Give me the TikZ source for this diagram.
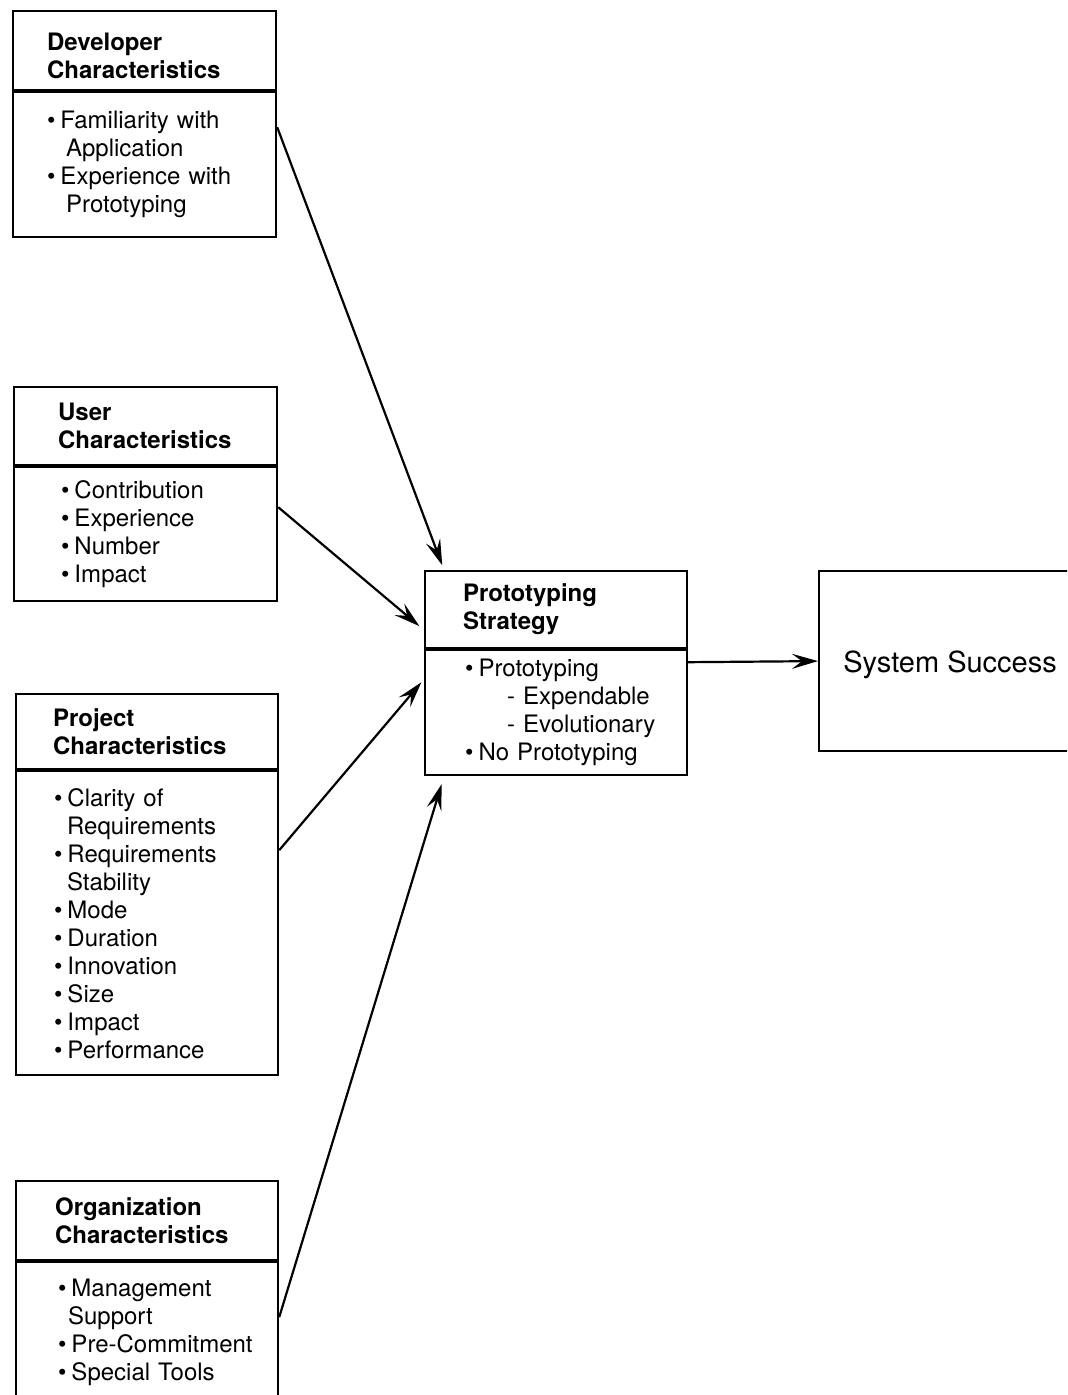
\documentclass[tikz,border=0pt]{standalone}
\usepackage{fontspec}
\setmainfont{TeX Gyre Heros}
\usetikzlibrary{arrows.meta}
\newcommand{\bul}{\textbullet\hspace{2.5pt}}
\tikzset{
  hdr/.style={draw, line width=1.1pt, anchor=north west, inner xsep=0pt, inner ysep=0pt,
    align=left, font=\bfseries\fontsize{12}{14}\selectfont},
  body/.style={draw, line width=1.1pt, anchor=north west, inner xsep=0pt, inner ysep=0pt,
    align=left, font=\fontsize{12}{14}\selectfont},
  inset/.style={execute at begin node={\leftskip=#1\relax}, execute at end node={\par}},
  arrow/.style={line width=1.1pt, -{Stealth[length=13pt, width=7.5pt, inset=5pt]}}
}

\begin{document}
\begin{tikzpicture}[x=0.5pt, y=-0.5pt]
  \path[use as bounding box, clip] (0,0) rectangle (1067,1395);
  % Einflussfaktoren
  \node[hdr, inset=17pt, text width=131.5pt, minimum height=39.5pt] (devh) at (12,10)
    {\rule{0pt}{14pt}Developer\\Characteristics};
  \node[body, inset=17pt, text width=131.5pt, minimum height=72.5pt] (devb) at (devh.south west)
    {\bul Familiarity with\\\hspace*{9.5pt}Application\\
     \bul Experience with\\\hspace*{9.5pt}Prototyping};
  \node[hdr, inset=22pt, text width=131.5pt, minimum height=39pt] (userh) at (13,386)
    {User\\Characteristics};
  \node[body, inset=23.5pt, text width=131.5pt, minimum height=67pt] (userb) at (userh.south west)
    {\bul Contribution\\\bul Experience\\\bul Number\\\bul Impact};
  \node[hdr, inset=18.5pt, text width=131pt, minimum height=37.5pt] (projh) at (15,693)
    {Project\\Characteristics};
  \node[body, inset=19pt, text width=131pt, minimum height=152pt] (projb) at (projh.south west)
    {\bul Clarity of\\\hspace*{6.5pt}Requirements\\
     \bul Requirements\\\hspace*{6.5pt}Stability\\
     \bul Mode\\\bul Duration\\\bul Innovation\\
     \bul Size\\\bul Impact\\\bul Performance};
  \node[hdr, inset=19.5pt, text width=131pt, minimum height=39.5pt] (orgh) at (15,1180)
    {Organization\\Characteristics};
  \node[body, inset=21pt, text width=131pt, minimum height=70.5pt] (orgb) at (orgh.south west)
    {\bul Management\\\hspace*{5pt}Support\\
     \bul Pre-Commitment\\\bul Special Tools};
  % Strategie und Ergebnis
  \node[hdr, inset=19pt, text width=131pt, minimum height=38.5pt] (psh) at (424,570)
    {Prototyping\\Strategy};
  \node[body, inset=20pt, text width=131pt, minimum height=62.5pt] (psb) at (psh.south west)
    {\bul Prototyping\\\hspace*{21pt}- Expendable\\
     \hspace*{21pt}- Evolutionary\\\bul No Prototyping};
  \node[draw, line width=1.1pt, anchor=north west, minimum width=131pt, minimum height=90pt,
    font=\fontsize{14.5}{17}\selectfont] (ss) at (818,570) {\rule{0pt}{15pt}System Success};
  % Pfeile
  \draw[arrow, shorten >=2.5pt] ([yshift=-18pt]devb.north east) -- ([xshift=10pt]psh.north west);
  \draw[arrow, shorten >=3pt] ([yshift=-20.5pt]userb.north east) -- ([yshift=-30pt]psh.north west);
  \draw[arrow, shorten >=2pt] ([yshift=-40pt]projb.north east) -- ([yshift=-15pt]psb.north west);
  \draw[arrow, shorten >=4pt] ([yshift=-28pt]orgb.north east) -- ([xshift=10pt]psb.south west);
  \draw[arrow] ([yshift=-6.5pt]psb.north east) -- (ss.west);
\end{tikzpicture}
\end{document}
